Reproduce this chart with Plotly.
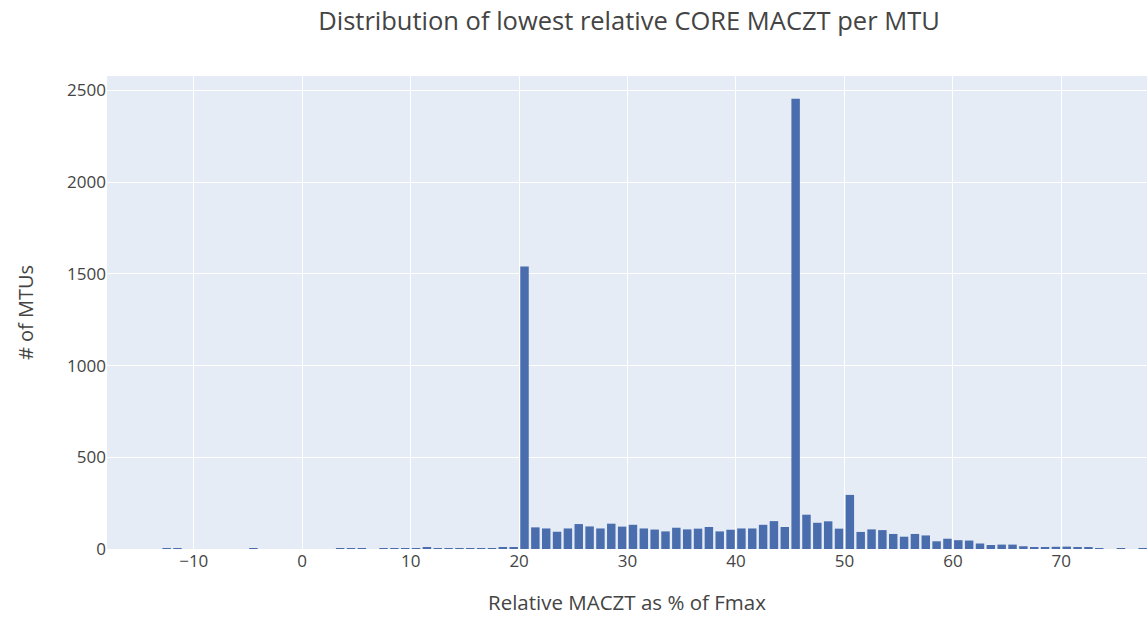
import plotly.graph_objects as go

# Histogram bins (left edges, width 1) and counts
bin_starts = list(range(-18, 78))
counts = [
    0, 0, 0, 0, 0, 1, 1, 0, 0, 0,        # -18 .. -9
    0, 0, 0, 1, 0, 0, 0, 0, 0, 0,        # -8 .. 1
    0, 2, 1, 2, 0, 2, 2, 1, 2, 6,        # 2 .. 11
    1, 2, 4, 5, 5, 5, 6, 9,              # 12 .. 19
    1540, 118, 112, 94, 112, 136, 123, 112, 138, 122,   # 20 .. 29
    132, 112, 106, 96, 116, 107, 111, 120, 96, 105,     # 30 .. 39
    112, 112, 132, 152, 120, 2455, 187, 143, 151, 111,  # 40 .. 49
    295, 93, 107, 103, 82, 67, 82, 74, 42, 56,          # 50 .. 59
    48, 46, 30, 22, 24, 24, 15, 10, 11, 12,             # 60 .. 69
    13, 7, 9, 4, 0, 2, 0, 1,                            # 70 .. 77
]
bin_width = 1

x_centers = [b + bin_width / 2 for b in bin_starts]

title_text = "Distribution of lowest relative CORE MACZT per MTU"
x_title = "Relative MACZT as % of Fmax"
y_title = "# of MTUs"

fig = go.Figure(
    go.Bar(
        x=x_centers,
        y=counts,
        width=[bin_width * 0.78] * len(counts),
        marker=dict(color="#4A6DAD", line=dict(width=0)),
    )
)

fig.update_layout(
    width=1147,
    height=619,
    margin=dict(l=107, r=0, t=76, b=70),
    paper_bgcolor="white",
    plot_bgcolor="#E5ECF6",
    font=dict(family="Open Sans, verdana, arial, sans-serif", color="#444", size=17),
    title=dict(
        text=title_text,
        x=629 / 1147,
        xanchor="center",
        xref="container",
        y=1 - 21 / 619,
        yanchor="middle",
        font=dict(size=25.5, color="#444"),
    ),
    showlegend=False,
    xaxis=dict(
        range=[-18, 77.9],
        tickmode="linear",
        tick0=0,
        dtick=10,
        gridcolor="white",
        gridwidth=1,
        zeroline=False,
        showline=False,
        ticks="",
        tickfont=dict(size=17),
        title=dict(text=x_title, font=dict(size=20.5), standoff=24),
    ),
    yaxis=dict(
        range=[0, 2579],
        tickmode="linear",
        tick0=0,
        dtick=500,
        gridcolor="white",
        gridwidth=1,
        zeroline=False,
        showline=False,
        ticks="",
        tickfont=dict(size=17),
        title=dict(text=y_title, font=dict(size=20), standoff=28),
    ),
)

fig.write_html("out.html")
